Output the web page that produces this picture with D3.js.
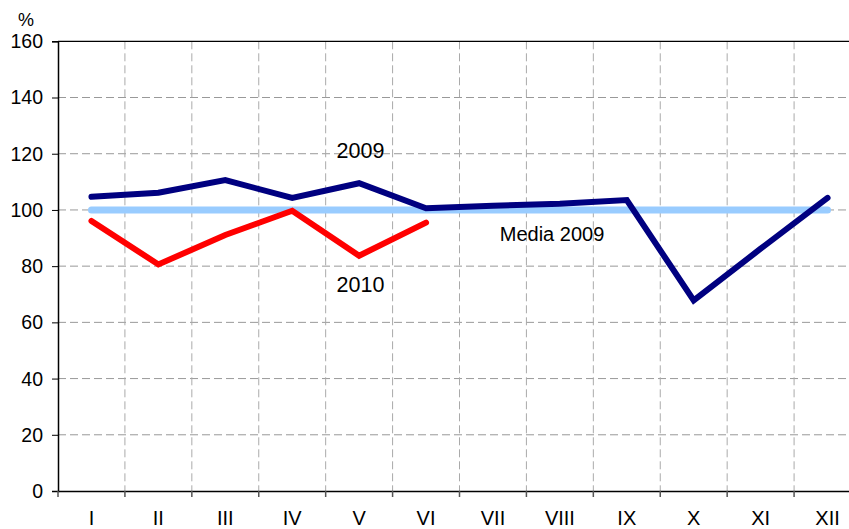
<!DOCTYPE html>
<html><head><meta charset="utf-8">
<script src="https://cdn.jsdelivr.net/npm/d3@7"></script>
<style>body{margin:0;background:#fff}svg{display:block}text{font-family:Arial,"Liberation Sans",sans-serif}</style>
</head><body><svg id="c" width="849" height="529"></svg>
<script>
const months = ["I","II","III","IV","V","VI","VII","VIII","IX","X","XI","XII"];
const values2009 = [104.7,106.1,110.6,104.3,109.5,100.6,101.5,102.2,103.5,67.8,86.2,104.3];
const values2010 = [96.1,80.6,91.1,99.7,83.7,95.5];
const media2009 = 100;
const yTicks = [0,20,40,60,80,100,120,140,160];

(function(){
const FF = "Arial, 'Liberation Sans', sans-serif";
const svg = d3.select("#c");
const pL = 58, pT = 41.3, pB = 491, pR = 861;
const x = d3.scaleBand().domain(months).range([pL, pR]);
const y = d3.scaleLinear().domain([0,160]).range([pB, pT]);
const cx = m => x(m) + x.bandwidth()/2;

// grid
const g = svg.append("g");
g.selectAll(".hg").data(yTicks.filter(d=>d>0 && d<160)).enter().append("line")
  .attr("x1", pL).attr("x2", pR).attr("y1", d=>y(d)).attr("y2", d=>y(d))
  .attr("stroke","#999").attr("stroke-width",1).attr("stroke-dasharray","8,4");
g.selectAll(".vg").data(months.slice(1)).enter().append("line")
  .attr("x1", d=>x(d)).attr("x2", d=>x(d)).attr("y1", pT).attr("y2", pB)
  .attr("stroke","#aaa").attr("stroke-width",1).attr("stroke-dasharray","8,4");
// top border
svg.append("line").attr("x1",pL).attr("x2",pR).attr("y1",pT).attr("y2",pT).attr("stroke","#000").attr("stroke-width",1.3);

// axes
const yAxis = d3.axisLeft(y).tickValues(yTicks).tickSize(6).tickPadding(9);
const ya = svg.append("g").attr("transform",`translate(${pL},0)`).call(yAxis);
ya.select(".domain").attr("stroke","#000").attr("stroke-width",1.5);
ya.selectAll("text").attr("font-size",19.5).attr("fill","#000").attr("font-family",FF).attr("dy","0.33em");

const xAxis = d3.axisBottom(x).tickSize(0).tickPadding(20);
const xa = svg.append("g").attr("transform",`translate(0,${pB})`).call(xAxis);
xa.select(".domain").attr("stroke","#000").attr("stroke-width",1.5);
xa.selectAll("text").attr("font-size",20).attr("fill","#000").attr("font-family",FF);
// boundary ticks
svg.append("g").selectAll("line").data(months).enter().append("line")
  .attr("x1", d=>x(d)).attr("x2", d=>x(d)).attr("y1", pB).attr("y2", pB+6)
  .attr("stroke","#555").attr("stroke-width",1.5);

svg.append("text").attr("x",26).attr("y",26).attr("text-anchor","middle").attr("font-size",18).text("%");

// media line
svg.append("line").attr("x1",cx("I")).attr("x2",cx("XII")).attr("y1",y(media2009)).attr("y2",y(media2009))
  .attr("stroke","#99ccff").attr("stroke-width",7).attr("stroke-linecap","round");

const line = d3.line().x((d,i)=>cx(months[i])).y(d=>y(d));
svg.append("path").datum(values2010).attr("d",line).attr("fill","none")
  .attr("stroke","#ff0000").attr("stroke-width",6).attr("stroke-linecap","round").attr("stroke-linejoin","miter");
svg.append("path").datum(values2009).attr("d",line).attr("fill","none")
  .attr("stroke","#000080").attr("stroke-width",6).attr("stroke-linecap","round").attr("stroke-linejoin","miter");

svg.append("text").attr("x",360.5).attr("y",158.3).attr("text-anchor","middle").attr("font-size",21.5).text("2009");
svg.append("text").attr("x",360.5).attr("y",291.5).attr("text-anchor","middle").attr("font-size",21.5).text("2010");
svg.append("text").attr("x",552).attr("y",241).attr("text-anchor","middle").attr("font-size",20).text("Media 2009");
})();
</script></body></html>
